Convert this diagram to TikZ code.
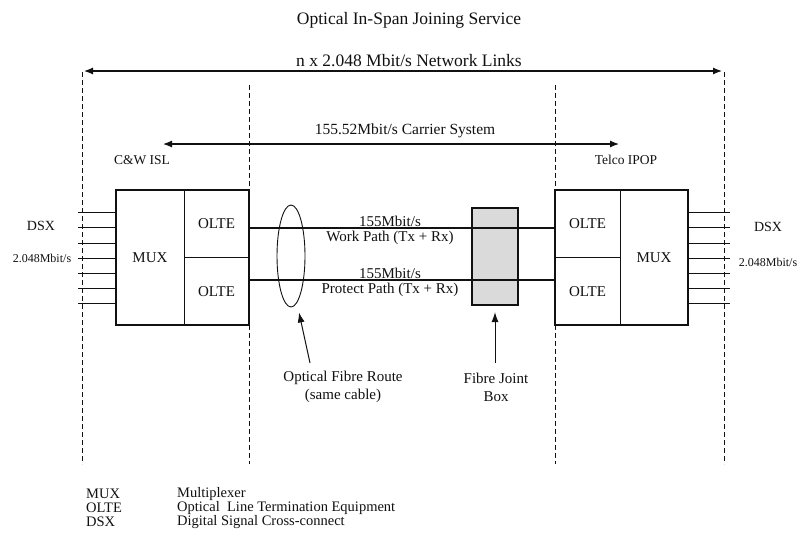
\documentclass[tikz,border=0pt]{standalone}
\usepackage{fontspec}
\setmainfont{Liberation Serif}
\usetikzlibrary{arrows.meta,shapes.geometric}
\definecolor{Ink}{HTML}{111111}
\definecolor{JointGrey}{HTML}{DADADA}

\begin{document}
\begin{tikzpicture}[x=1pt,y=-1pt,
  every node/.style={font=\fontsize{15}{18}\selectfont,text=Ink,inner sep=0pt},
  cell/.style={draw=Ink,line width=0.7pt,minimum width=#1},cell/.default=65pt,
  guide/.style={draw=Ink,line width=0.7pt,dash pattern=on 5pt off 3pt},
  span/.style={draw=Ink,line width=1.2pt,{Latex[length=9pt,width=7pt]}-{Latex[length=9pt,width=7pt]}},
  pointer/.style={draw=Ink,line width=1pt,-{Latex[length=10pt,width=7pt]}},
  fibre/.style={draw=Ink,line width=1.8pt},
  tie/.style={draw=Ink,line width=0.8pt}]
\useasboundingbox (0,0) rectangle (801,544);
\fill[white] (0,0) rectangle (801,544);
\node[font=\fontsize{17.5}{20}\selectfont] (title) at (409,20) {Optical In-Span Joining Service};
\draw[guide] (82,72)--(82,464);\draw[guide] (249,85)--(249,464);
\draw[guide] (555,85)--(555,464);\draw[guide] (724,72)--(724,464);
\coordinate (netL) at (84,71);\coordinate (netR) at (722,71);
\draw[span] (netL)--(netR);
\node[font=\fontsize{17.5}{20}\selectfont] (nettxt) at (409,61) {n x 2.048 Mbit/s Network Links};
\coordinate (carL) at (163,144);\coordinate (carR) at (619,144);
\draw[span] (carL)--(carR);
\node[font=\fontsize{15.5}{20}\selectfont] (cartxt) at (405,131) {155.52Mbit/s Carrier System};
\node[font=\fontsize{13.5}{16}\selectfont] (cwisl) at (142,160) {C\&W ISL};
\node[font=\fontsize{13.5}{16}\selectfont] (telco) at (626,160) {Telco IPOP};
\node[cell=68pt,minimum height=135pt] (lmux) at (150,257.5) {MUX};
\node[cell,minimum height=67.5pt] (lolteA) at (216.5,223.75) {OLTE};
\node[cell,minimum height=67.5pt] (lolteB) at (216.5,291.25) {OLTE};
\draw[Ink,line width=1.8pt] (lmux.north west) rectangle (lolteB.south east);
\node[cell,minimum height=67.5pt] (rolteA) at (587.5,223.75) {OLTE};
\node[cell,minimum height=67.5pt] (rolteB) at (587.5,291.25) {OLTE};
\node[cell=68pt,minimum height=135pt] (rmux) at (654,257.5) {MUX};
\draw[Ink,line width=1.8pt] (rolteA.north west) rectangle (rmux.south east);
\foreach \y in {212,227,243,258,273,288,303} {\draw[tie] (78,\y)--(116,\y);\draw[tie] (688,\y)--(730,\y);}
\node[font=\fontsize{14}{16}\selectfont] (ldsx) at (41,226) {DSX};
\node[font=\fontsize{12}{14}\selectfont] (lrate) at (42,258) {2.048Mbit/s};
\node[font=\fontsize{14}{16}\selectfont] (rdsx) at (768,227) {DSX};
\node[font=\fontsize{12}{14}\selectfont] (rrate) at (768,262) {2.048Mbit/s};
\node[draw=Ink,line width=2.2pt,fill=JointGrey,minimum width=46pt,minimum height=97pt] (joint) at (495,256.5) {};
\node[draw=Ink,line width=0.9pt,ellipse,minimum width=28pt,minimum height=102pt] (cable) at (291,256) {};
\draw[fibre] ([yshift=-4pt]lolteA.east)--([yshift=-4pt]rolteA.west);
\draw[fibre] ([yshift=11pt]lolteB.east)--([yshift=11pt]rolteB.west);
\node (workrate) at (390,221) {155Mbit/s};
\node (workname) at (390,238) {Work Path (Tx + Rx)};
\node (protrate) at (390,273) {155Mbit/s};
\node (protname) at (390,290) {Protect Path (Tx + Rx)};
\node[align=center] (fibretxt) at (343,387) {Optical Fibre Route\\(same cable)};
\node[align=center] (jointtxt) at (496,387) {Fibre Joint\\Box};
\coordinate (fibrefoot) at (310,363);\coordinate (jointfoot) at (495,363);
\draw[pointer] (fibrefoot)--([shift={(8,5)}]cable.south);
\draw[pointer] (jointfoot)--([yshift=-6pt]joint.south);
\node[anchor=west,font=\fontsize{14.5}{16}\selectfont] (kmux) at (86,494) {MUX};
\node[anchor=west,font=\fontsize{14.5}{16}\selectfont] (dmux) at (177,494) {Multiplexer};
\node[anchor=west,font=\fontsize{14.5}{16}\selectfont] (kolte) at (86,508) {OLTE};
\node[anchor=west,font=\fontsize{14.5}{16}\selectfont] (dolte) at (177,508) {Optical\ \ Line Termination Equipment};
\node[anchor=west,font=\fontsize{14.5}{16}\selectfont] (kdsx) at (86,522) {DSX};
\node[anchor=west,font=\fontsize{14.5}{16}\selectfont] (ddsx) at (177,522) {Digital Signal Cross-connect};
\end{tikzpicture}
\end{document}
